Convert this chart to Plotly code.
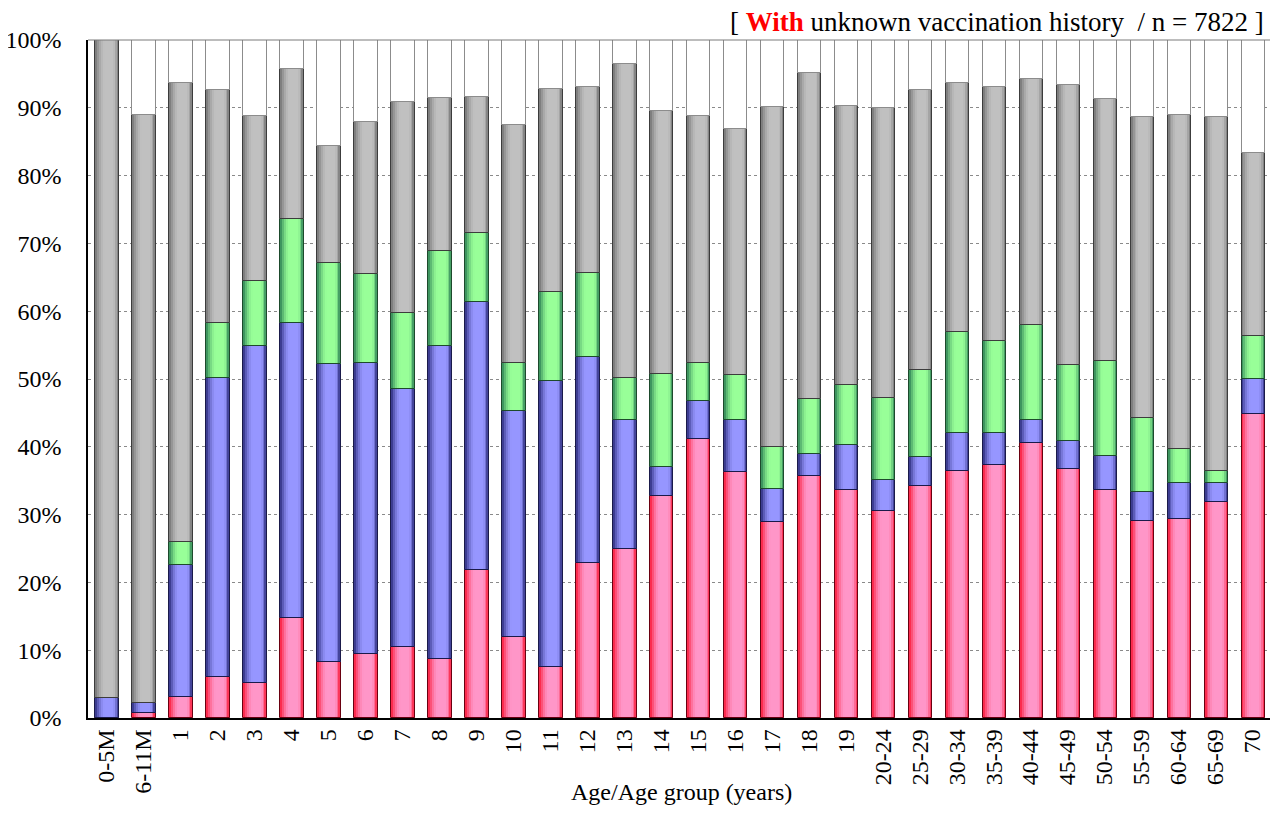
import math
import numpy as np
import plotly.graph_objects as go

# ---------------- data (cumulative tops of each segment, %) ----------------
categories = ["0-5M", "6-11M", "1", "2", "3", "4", "5", "6", "7", "8", "9", "10",
              "11", "12", "13", "14", "15", "16", "17", "18", "19", "20-24",
              "25-29", "30-34", "35-39", "40-44", "45-49", "50-54", "55-59",
              "60-64", "65-69", "70"]

red_top = [0.0, 0.7, 3.1, 6.1, 5.1, 14.7, 8.3, 9.4, 10.4, 8.7, 21.9, 11.9,
           7.5, 22.8, 25.0, 32.8, 41.1, 36.3, 28.9, 35.7, 33.7, 30.6,
           34.2, 36.5, 37.3, 40.5, 36.8, 33.7, 29.0, 29.3, 31.9, 44.8]

blue_top = [2.9, 2.2, 22.6, 50.2, 54.9, 58.2, 52.2, 52.4, 48.5, 54.8, 61.4, 45.3,
            49.7, 53.3, 44.0, 37.0, 46.8, 44.0, 33.8, 39.0, 40.2, 35.1,
            38.5, 42.0, 42.1, 44.0, 40.8, 38.7, 33.3, 34.7, 34.6, 50.0]

green_top = [2.9, 2.2, 26.0, 58.2, 64.5, 73.6, 67.1, 65.5, 59.8, 68.9, 71.5, 52.4,
             62.9, 65.6, 50.1, 50.8, 52.4, 50.6, 40.0, 47.1, 49.1, 47.2,
             51.4, 56.9, 55.6, 58.0, 52.0, 52.6, 44.2, 39.7, 36.4, 56.3]

gray_top = [100.0, 88.9, 93.6, 92.6, 88.8, 95.7, 84.4, 87.9, 90.8, 91.5, 91.6, 87.4,
            92.7, 93.0, 96.4, 89.5, 88.8, 86.9, 90.1, 95.2, 90.2, 89.9,
            92.6, 93.6, 93.0, 94.3, 93.3, 91.3, 88.6, 89.0, 88.6, 83.4]

total_top = [100.0] * len(categories)

y_tick_vals = [0, 10, 20, 30, 40, 50, 60, 70, 80, 90, 100]
y_tick_text = ["0%", "10%", "20%", "30%", "40%", "50%", "60%", "70%", "80%", "90%", "100%"]

# ---------------- styling ----------------
SERIF = "Liberation Serif"
BAR_W = 0.635
N_STRIPS = 12

series = [
    # (tops, edge rgb, center rgb, outline)
    (red_top,   (250, 25, 55),   (255, 150, 200), "#6a0010"),
    (blue_top,  (45, 45, 125),   (150, 150, 255), "#1a1a4a"),
    (green_top, (45, 130, 85),   (152, 255, 152), "#1d4a2c"),
    (gray_top,  (115, 115, 115), (192, 192, 192), "#3c3c3c"),
]


def profile(t):
    if t < 0.42:
        return math.sin(math.pi / 2 * t / 0.42)
    if t < 0.72:
        return 1.0
    return math.cos(math.pi / 2 * (t - 0.72) / 0.28)


def mix(a, b, f):
    return "rgb(%d,%d,%d)" % tuple(round(a[k] + (b[k] - a[k]) * f) for k in range(3))


fig = go.Figure()

prev = np.zeros(len(categories))
strip_w = BAR_W / N_STRIPS
X_SHIFT = 0.02
for tops, edge, center, outline in series:
    tops = np.array(tops, dtype=float)
    base = prev.copy()
    height = tops - base
    for i in range(N_STRIPS):
        t = (i + 0.5) / N_STRIPS
        w = strip_w * (1.0 if i == N_STRIPS - 1 else 1.35)
        fig.add_trace(go.Bar(
            x=categories, y=height, base=base,
            width=w, offset=-BAR_W / 2 + i * strip_w + X_SHIFT,
            marker=dict(color=mix(edge, center, profile(t)), line=dict(width=0)),
            hoverinfo="skip", showlegend=False,
        ))
    fig.add_trace(go.Bar(
        x=categories, y=height, base=base,
        width=BAR_W, offset=-BAR_W / 2 + X_SHIFT,
        marker=dict(color="rgba(0,0,0,0)", line=dict(color=outline, width=1)),
        hoverinfo="skip", showlegend=False,
    ))
    prev = tops

# white remainder segment
top_arr = np.array(total_top, dtype=float)
fig.add_trace(go.Bar(
    x=categories, y=top_arr - prev, base=prev,
    width=BAR_W, offset=-BAR_W / 2 + X_SHIFT,
    marker=dict(color="white", line=dict(color="#8c8c8c", width=1)),
    hoverinfo="skip", showlegend=False,
))

# The page body has an 8px margin, so the figure is placed at (8, 8).
OFF = 8
W, H = 1264, 798
L, T = 88 - OFF, 40 - OFF
R = W - (1271 - OFF)
B = H - (718 - OFF)
plot_h = H - T - B
plot_w = W - L - R


def py(page_y):
    return ((718 - OFF) - (page_y - OFF)) / plot_h


def px(page_x):
    return (page_x - 88) / plot_w


fig.update_layout(
    width=W, height=H,
    barmode="overlay",
    bargap=0,
    template="none",
    plot_bgcolor="white", paper_bgcolor="white",
    margin=dict(l=L, r=R, t=T, b=B, autoexpand=False),
    font=dict(family=SERIF, color="black", size=24),
    xaxis=dict(
        type="category", categoryorder="array", categoryarray=categories,
        tickangle=-90, showgrid=False, ticks="",
        showline=True, linecolor="black", linewidth=1.5,
        tickfont=dict(family=SERIF, size=24, color="black"),
        range=[-0.5, len(categories) - 0.5],
    ),
    yaxis=dict(
        range=[0, 100], tickmode="array", tickvals=y_tick_vals, ticktext=y_tick_text,
        showgrid=True, gridcolor="#8a8a8a", griddash="dot", gridwidth=1,
        showline=True, linecolor="black", linewidth=1.5,
        ticks="outside", ticklen=20, tickcolor="rgba(0,0,0,0)", zeroline=False,
        tickfont=dict(family=SERIF, size=24, color="black"),
    ),
    shapes=[
        dict(type="line", xref="paper", yref="paper", x0=0, x1=1, y0=1, y1=1,
             line=dict(color="#7a7a7a", width=1), layer="above"),
        dict(type="line", xref="paper", yref="paper", x0=1, x1=1, y0=0, y1=1,
             line=dict(color="#7a7a7a", width=1), layer="above"),
    ],
    annotations=[
        dict(text="[ <span style='color:#ff0000'><b>With</b></span> unknown vaccination history  / n = 7822 ]",
             xref="paper", yref="paper",
             x=px(1266), y=py(22),
             xanchor="right", yanchor="middle", showarrow=False,
             font=dict(family=SERIF, size=27, color="black")),
        dict(text="Age/Age group (years)",
             xref="paper", yref="paper",
             x=px(681), y=py(792),
             xanchor="center", yanchor="middle", showarrow=False,
             font=dict(family=SERIF, size=24, color="black")),
    ],
)

fig.write_html("out.html")
